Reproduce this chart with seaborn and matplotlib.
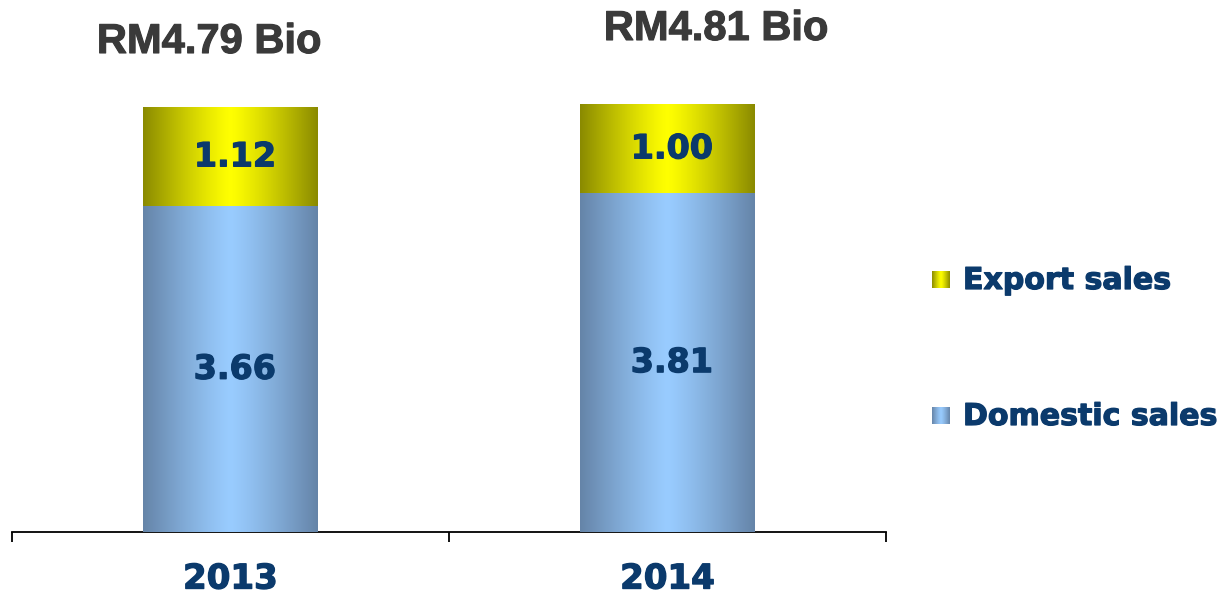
import numpy as np
import pandas as pd
import matplotlib
matplotlib.use("Agg")
import matplotlib.pyplot as plt
import matplotlib.colors as mcolors
import matplotlib.patheffects as pe
import seaborn as sns

# ---- data ----
years = ["2013", "2014"]
domestic = [3.66, 3.81]
export = [1.12, 1.00]
totals_text = ["RM4.79 Bio", "RM4.81 Bio"]
series_names = ["Export sales", "Domestic sales"]

totals = [d + e for d, e in zip(domestic, export)]
df = pd.DataFrame({"year": years, "domestic": domestic, "export": export, "total": totals})

sns.set_style("white")
plt.rcParams["font.family"] = ["DejaVu Sans"]

NAVY = "#0b3a6c"
GREY = "#3a3a3a"
YEL_EDGE, YEL_MID = "#8a8a00", "#ffff00"
BLU_EDGE, BLU_MID = "#6584a8", "#99ccff"


def gradient(edge, mid, n=256, power=1.2):
    e = np.array(mcolors.to_rgb(edge))
    m = np.array(mcolors.to_rgb(mid))
    t = np.linspace(0, 1, n)
    d = np.abs(t - 0.5) * 2
    d = d ** power
    arr = m[None, :] + (e - m)[None, :] * d[:, None]
    return arr[None, :, :]


def thick(color, lw=0.9):
    return [pe.withStroke(linewidth=lw, foreground=color)]


W, H = 1230, 594
fig = plt.figure(figsize=(W / 100, H / 100), dpi=100)
ax = fig.add_axes([12 / W, (H - 532) / H, 874 / W, (532 - 60) / H])

sns.barplot(data=df, x="year", y="total", color=YEL_MID, width=0.4, ax=ax)
sns.barplot(data=df, x="year", y="domestic", color=BLU_MID, width=0.4, ax=ax)

xlim = (-0.5, 1.5)
ylim = (0, 472 / 88.9)

patches = list(ax.patches)
n = len(years)
for i, p in enumerate(patches):
    x0, y0 = p.get_x(), p.get_y()
    w, h = p.get_width(), p.get_height()
    if i < n:
        img = gradient(YEL_EDGE, YEL_MID)
        z = 2
    else:
        img = gradient(BLU_EDGE, BLU_MID)
        z = 3
    ax.imshow(img, extent=[x0, x0 + w, y0, y0 + h], aspect="auto",
              interpolation="bicubic", zorder=z)
    p.set_visible(False)

ax.set_xlim(*xlim)
ax.set_ylim(*ylim)

# value labels
dx = 0.01
for i in range(n):
    ax.text(i + dx, domestic[i] / 2, f"{domestic[i]:.2f}", ha="center", va="center",
            fontsize=24, fontweight="bold", color=NAVY, zorder=5, path_effects=thick(NAVY))
    ax.text(i + dx, domestic[i] + export[i] / 2, f"{export[i]:.2f}", ha="center", va="center",
            fontsize=24, fontweight="bold", color=NAVY, zorder=5, path_effects=thick(NAVY))

# totals titles (figure coords)
title_pos = [(209 / W, 1 - 42 / H), (716 / W, 1 - 29 / H)]
for (tx, ty), s in zip(title_pos, totals_text):
    fig.text(tx, ty, s, ha="center", va="center", fontsize=30, fontweight="bold",
             color=GREY, family=["Liberation Sans", "DejaVu Sans"], path_effects=thick(GREY, 0.8))

# axes styling
for side in ["top", "right", "left"]:
    ax.spines[side].set_visible(False)
ax.spines["bottom"].set_color("black")
ax.spines["bottom"].set_linewidth(1.3)
ax.set_yticks([])
ax.set_xlabel("")
ax.set_ylabel("")
ax.set_xticks(range(n))
ax.set_xticklabels(years, fontsize=24.5, fontweight="bold", color=NAVY)
for lbl in ax.get_xticklabels():
    lbl.set_path_effects(thick(NAVY))
ax.tick_params(axis="x", which="major", length=0, pad=22)
ax.set_xticks([-0.5, 0.5, 1.5], minor=True)
ax.tick_params(axis="x", which="minor", bottom=True, length=7.5, width=1.3,
               direction="out", color="black")

# legend
leg = [(series_names[0], YEL_EDGE, YEL_MID, 271, 288), (series_names[1], BLU_EDGE, BLU_MID, 407, 424)]
for name, e, m, ytop, ybot in leg:
    lax = fig.add_axes([932 / W, 1 - ybot / H, 18 / W, (ybot - ytop) / H])
    lax.imshow(gradient(e, m), aspect="auto", interpolation="bicubic")
    lax.axis("off")
    fig.text(963 / W, 1 - ((ytop + ybot) / 2 + 1) / H, name, ha="left", va="center",
             fontsize=21.6, fontweight="bold", color=NAVY, path_effects=thick(NAVY))

fig.savefig("out.png", dpi=100, facecolor="white")
